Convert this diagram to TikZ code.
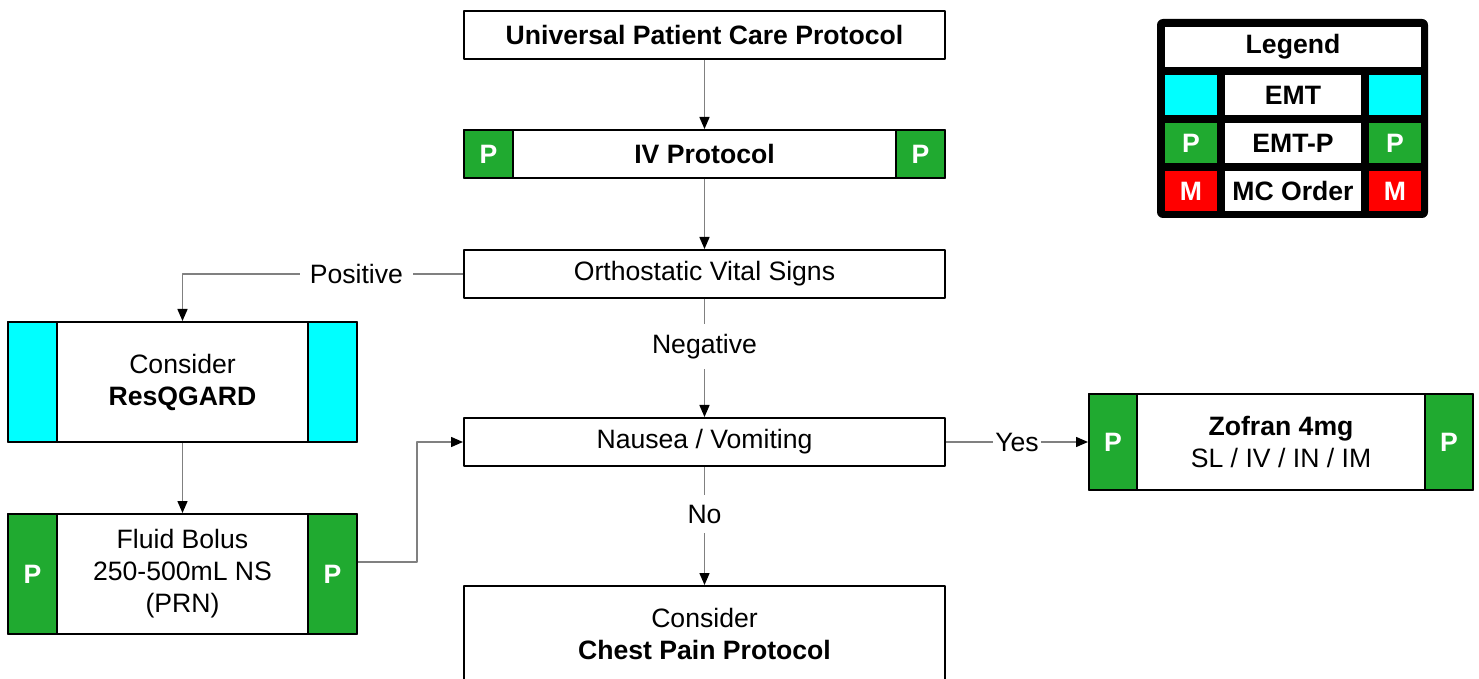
\documentclass[tikz,border=0pt]{standalone}
\usepackage{fontspec}
\setmainfont{Liberation Sans}
\usetikzlibrary{arrows.meta}
\definecolor{pgreen}{RGB}{32,170,48}
\definecolor{pred}{RGB}{255,0,0}
\definecolor{ecyan}{RGB}{0,255,255}
\newcommand{\fsz}{\fontsize{13.3}{16}\selectfont}
\begin{document}
\begin{tikzpicture}[x=0.5pt, y=-0.5pt, font=\fsz, line join=round,
  >={Triangle[length=6pt,width=5pt,color=black]},
  box/.style={draw, line width=1pt, fill=white, inner sep=0pt, minimum width=240.5pt, minimum height=24pt, align=center},
  side/.style={draw, line width=1pt, inner sep=0pt, minimum width=24.5pt, minimum height=#1, text=white, font=\fsz\bfseries},
  lcell/.style={fill=white, inner sep=0pt, minimum height=20pt, font=\fsz\bfseries},
  lbl/.style={fill=white, inner sep=5pt},
  conn/.style={draw=gray, line width=0.75pt, ->}]
\useasboundingbox (0,0) rectangle (1479,679);
% main column
\node[box] (upcp) at (704.5,35) {\bfseries Universal Patient Care Protocol};
\node[box] (iv) at (704.5,154) {\bfseries IV Protocol};
\node[side=24pt, fill=pgreen, anchor=west] (iv-l) at (iv.west) {P};
\node[side=24pt, fill=pgreen, anchor=east] (iv-r) at (iv.east) {P};
\node[box] (orth) at (704.5,274) {Orthostatic Vital Signs};
\node[box] (naus) at (704.5,442) {Nausea / Vomiting};
\node[box, minimum height=48pt] (chest) at (704.5,634) {Consider\\\textbf{Chest Pain Protocol}};
% left column
\node[box, minimum width=174.5pt, minimum height=60pt] (resq) at (182.5,382) {Consider\\\textbf{ResQGARD}};
\node[side=60pt, fill=ecyan, anchor=west] (resq-l) at (resq.west) {};
\node[side=60pt, fill=ecyan, anchor=east] (resq-r) at (resq.east) {};
\node[box, minimum width=174.5pt, minimum height=60pt] (fluid) at (182.5,574) {Fluid Bolus\\250-500mL NS\\(PRN)};
\node[side=60pt, fill=pgreen, anchor=west] (fluid-l) at (fluid.west) {P};
\node[side=60pt, fill=pgreen, anchor=east] (fluid-r) at (fluid.east) {P};
% right
\node[box, minimum width=192pt, minimum height=48pt] (zof) at (1281,442) {\textbf{Zofran 4mg}\\SL / IV / IN / IM};
\node[side=48pt, fill=pgreen, anchor=west, minimum width=24pt] (zof-l) at (zof.west) {P};
\node[side=48pt, fill=pgreen, anchor=east, minimum width=24pt] (zof-r) at (zof.east) {P};
% legend
\fill[rounded corners=3pt] (1157,19) rectangle (1428,218);
\node[lcell, minimum width=128pt] (leg) at (1293,47) {Legend};
\foreach \yy/\c/\t/\m/\nm in {95/ecyan/EMT//emt, 143/pgreen/EMT-P/P/emtp, 191/pred/MC Order/M/mc}{
  \node[lcell, fill=\c, text=white, minimum width=26pt] (\nm-l) at (1191,\yy) {\m};
  \node[lcell, minimum width=68pt] (\nm) at (1293,\yy) {\t};
  \node[lcell, fill=\c, text=white, minimum width=26pt] (\nm-r) at (1395,\yy) {\m};
}
% connectors
\draw[conn] (upcp) -- (iv);
\draw[conn] (iv) -- (orth);
\draw[conn] (orth.west) -| node[lbl, pos=0.19]{Positive} (resq.north);
\draw[conn] (orth) -- node[lbl, pos=0.4]{Negative} (naus);
\draw[conn] (resq) -- (fluid);
\draw[conn] ([yshift=6pt]fluid.east) -- ++(59,0) |- (naus.west);
\draw[conn] (naus) -- node[lbl, inner sep=1pt]{Yes} (zof);
\draw[conn] (naus) -- node[lbl, pos=0.4]{No} (chest);
\end{tikzpicture}
\end{document}
